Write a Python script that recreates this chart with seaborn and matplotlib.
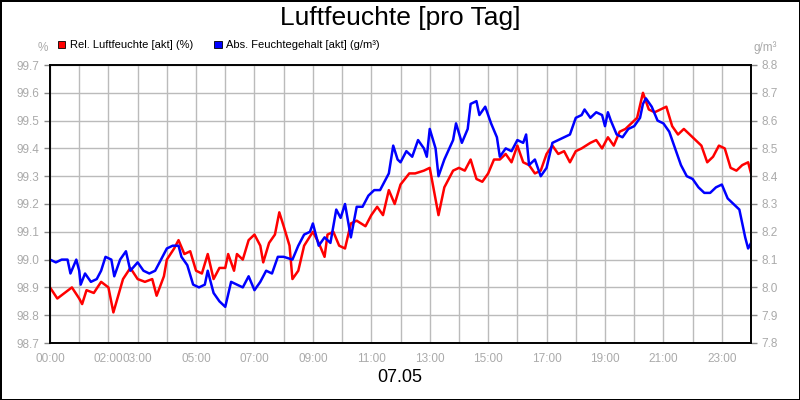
import matplotlib
matplotlib.use("Agg")
import matplotlib.pyplot as plt
import seaborn as sns
import numpy as np

sns.set_theme(style="white")
plt.rcParams['font.family'] = ['Liberation Sans', 'DejaVu Sans']

red_t = [0.0,0.25,0.5,0.75,1.0,1.1,1.25,1.5,1.75,2.0,2.17,2.5,2.75,3.0,3.25,3.5,3.65,3.9,4.0,4.25,4.4,4.6,4.8,5.0,5.2,5.4,5.6,5.8,6.0,6.1,6.3,6.4,6.6,6.8,7.0,7.2,7.3,7.5,7.7,7.85,8.0,8.2,8.3,8.5,8.7,9.0,9.2,9.4,9.5,9.7,9.9,10.1,10.3,10.5,10.8,11.0,11.2,11.4,11.6,11.8,12.0,12.3,12.5,12.8,13.0,13.3,13.5,13.8,14.0,14.2,14.4,14.6,14.8,15.0,15.2,15.4,15.6,15.8,16.0,16.2,16.4,16.6,16.8,17.0,17.2,17.4,17.6,17.8,18.0,18.2,18.5,18.7,18.9,19.1,19.3,19.5,19.7,19.9,20.1,20.3,20.5,20.7,20.9,21.1,21.3,21.5,21.7,21.9,22.1,22.3,22.5,22.7,22.9,23.1,23.3,23.5,23.7,23.9,24.0]
red_v = [98.90,98.86,98.88,98.90,98.86,98.84,98.89,98.88,98.92,98.90,98.81,98.93,98.97,98.93,98.92,98.93,98.87,98.94,99.00,99.04,99.07,99.02,99.03,98.96,98.95,99.02,98.93,98.97,98.97,99.02,98.96,99.02,99.00,99.07,99.09,99.05,98.99,99.06,99.09,99.17,99.12,99.05,98.93,98.96,99.05,99.10,99.06,99.01,99.09,99.10,99.05,99.04,99.13,99.14,99.12,99.16,99.19,99.16,99.25,99.20,99.27,99.31,99.31,99.32,99.33,99.16,99.26,99.32,99.33,99.32,99.36,99.29,99.28,99.31,99.36,99.36,99.38,99.35,99.41,99.35,99.34,99.31,99.32,99.38,99.41,99.38,99.39,99.35,99.39,99.40,99.42,99.43,99.40,99.44,99.41,99.46,99.47,99.49,99.51,99.60,99.54,99.53,99.54,99.55,99.48,99.45,99.47,99.45,99.43,99.41,99.35,99.37,99.41,99.40,99.33,99.32,99.34,99.35,99.31]

blue_t = [0,0.2,0.4,0.6,0.7,0.9,1.0,1.05,1.2,1.4,1.6,1.75,1.9,2.1,2.2,2.4,2.6,2.75,3.0,3.2,3.4,3.6,3.8,4.0,4.2,4.4,4.5,4.7,4.9,5.1,5.3,5.4,5.6,5.8,6.0,6.2,6.4,6.6,6.8,7.0,7.2,7.4,7.6,7.8,8.0,8.3,8.5,8.7,8.9,9.0,9.2,9.4,9.6,9.8,9.95,10.1,10.3,10.5,10.7,10.9,11.1,11.3,11.5,11.6,11.75,11.9,12.0,12.2,12.4,12.6,12.8,12.9,13.0,13.2,13.3,13.5,13.8,13.9,14.1,14.3,14.4,14.6,14.7,14.9,15.1,15.3,15.4,15.6,15.8,16.0,16.2,16.3,16.4,16.6,16.8,17.0,17.2,17.4,17.6,17.8,18.0,18.2,18.3,18.5,18.7,18.9,19.0,19.1,19.2,19.4,19.6,19.8,20.0,20.2,20.3,20.4,20.6,20.8,21.0,21.2,21.4,21.6,21.8,22.0,22.2,22.4,22.6,22.8,23.0,23.2,23.4,23.6,23.7,23.8,23.9,24.0]
blue_v = [8.10,8.09,8.10,8.10,8.05,8.10,8.06,8.01,8.05,8.02,8.03,8.06,8.11,8.10,8.04,8.10,8.13,8.06,8.09,8.06,8.05,8.06,8.10,8.14,8.15,8.15,8.11,8.08,8.01,8.00,8.01,8.06,7.98,7.95,7.93,8.02,8.01,8.00,8.04,7.99,8.02,8.06,8.05,8.11,8.11,8.10,8.15,8.19,8.20,8.23,8.15,8.18,8.16,8.28,8.25,8.30,8.18,8.29,8.29,8.33,8.35,8.35,8.39,8.41,8.51,8.46,8.45,8.49,8.47,8.53,8.50,8.47,8.57,8.50,8.40,8.46,8.53,8.59,8.52,8.57,8.66,8.67,8.62,8.65,8.59,8.54,8.47,8.50,8.49,8.53,8.52,8.55,8.44,8.46,8.40,8.43,8.52,8.53,8.54,8.55,8.61,8.62,8.64,8.61,8.63,8.62,8.58,8.63,8.60,8.55,8.54,8.57,8.58,8.61,8.66,8.68,8.65,8.60,8.59,8.56,8.50,8.44,8.40,8.39,8.36,8.34,8.34,8.36,8.37,8.32,8.30,8.28,8.23,8.18,8.14,8.16]

label_hours = [0, 2, 3, 5, 7, 9, 11, 13, 15, 17, 19, 21, 23]

fig = plt.figure(figsize=(8, 4), dpi=100)
fig.patch.set_edgecolor("black"); fig.patch.set_linewidth(2)
ax = fig.add_axes([0.0625, 0.1425, 0.8763, 0.695])
ax2 = ax.twinx()
gray = "#aaaaaa"
sns.lineplot(x=red_t, y=red_v, ax=ax, color="#ff0000", lw=1.8)
sns.lineplot(x=blue_t, y=blue_v, ax=ax2, color="#0000ff", lw=1.8)
ax.set_xlim(0, 24); ax.set_ylim(98.7, 99.7); ax2.set_ylim(7.8, 8.8)
ax.set_xticks(range(25), minor=False)
ax.set_xticklabels([f"{h:02d}:00" if h in label_hours else "" for h in range(25)])
ax.set_yticks(np.round(np.arange(98.7, 99.71, 0.1), 1))
ax.set_yticklabels([f"{v:.1f}" for v in np.arange(98.7, 99.71, 0.1)])
ax2.set_yticks(np.round(np.arange(7.8, 8.81, 0.1), 1))
ax2.set_yticklabels([f"{v:.1f}" for v in np.arange(7.8, 8.81, 0.1)])
ax.grid(True, color="#bbbbbb", lw=1)
for a in (ax, ax2):
    a.tick_params(colors=gray, labelsize=8.5, length=4, direction="out", width=1)
    a.tick_params(axis="both", color="#888888")
    for s in a.spines.values():
        s.set_color("black"); s.set_linewidth(1.2)
ax.set_xlabel(""); ax.set_ylabel("")
fig.text(0.5, 0.955, "Luftfeuchte [pro Tag]", ha="center", va="center", fontsize=19, color="black")
fig.text(0.5, 0.055, "07.05", ha="center", va="center", fontsize=13, color="black")
fig.text(0.054, 0.88, "%", ha="center", va="center", fontsize=8.5, color=gray)
fig.text(0.957, 0.88, "g/m³", ha="center", va="center", fontsize=8.5, color=gray)
from matplotlib.patches import Rectangle
for x0, col, lab in [(0.072, "#ff0000", "Rel. Luftfeuchte [akt] (%)"), (0.268, "#0000ff", "Abs. Feuchtegehalt [akt] (g/m³)")]:
    fig.patches.append(Rectangle((x0, 0.879), 0.009, 0.018, transform=fig.transFigure, facecolor=col, edgecolor="black", lw=0.6))
    fig.text(x0 + 0.015, 0.888, lab, ha="left", va="center", fontsize=8, color="black")
fig.savefig("out.png", dpi=100, edgecolor=fig.get_edgecolor())
